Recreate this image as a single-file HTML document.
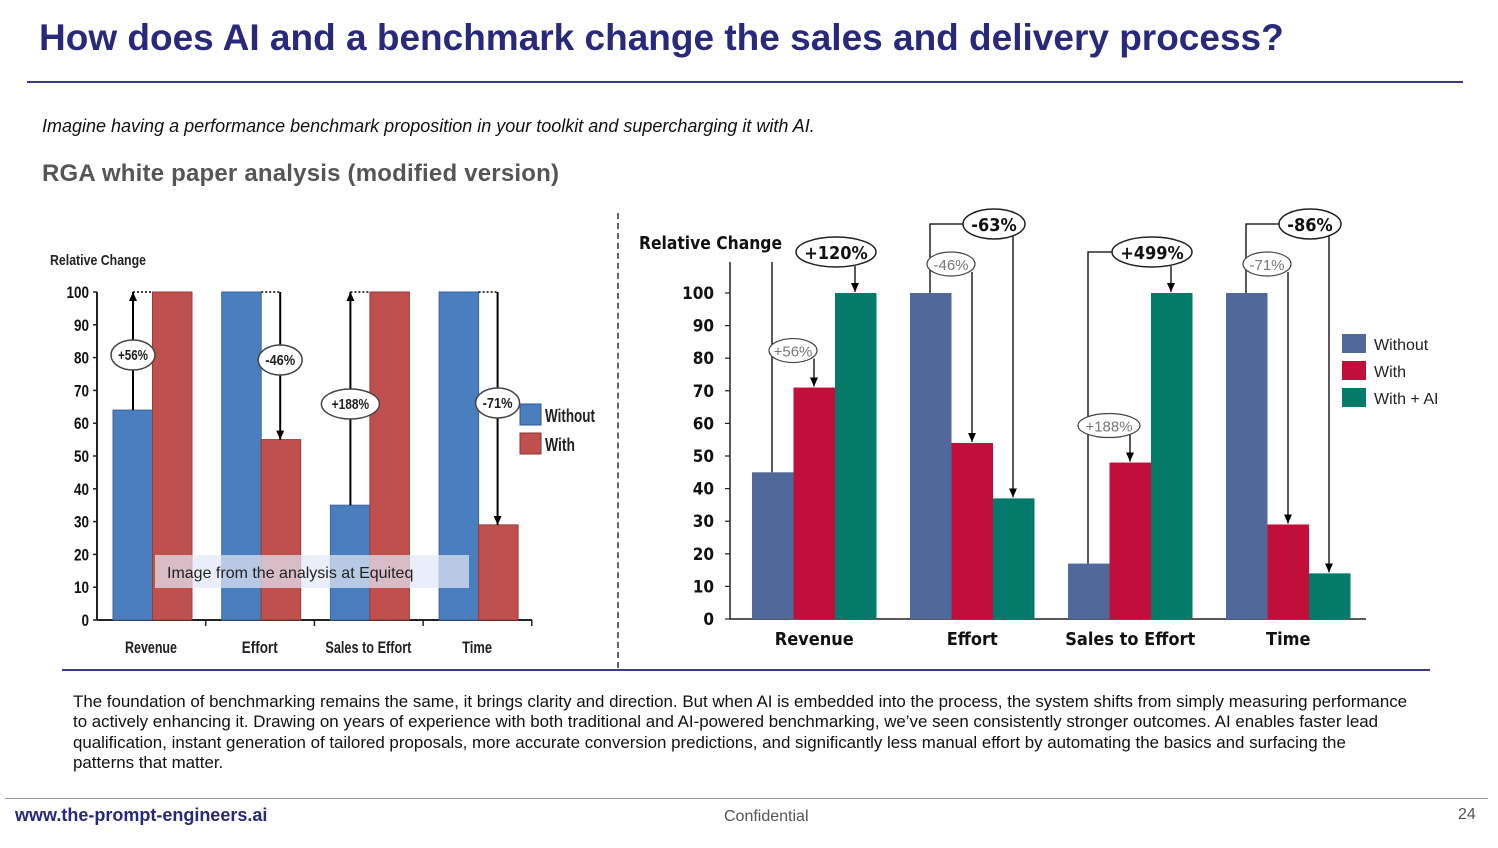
<!DOCTYPE html>
<html><head><meta charset="utf-8">
<style>
body{margin:0;width:1498px;height:848px;background:#fff;overflow:hidden;font-family:"Liberation Sans",sans-serif;position:relative}
.abs{position:absolute;margin:0}
</style></head><body>
<h1 class="abs" style="left:39px;top:17px;font-size:37px;font-weight:bold;color:#28297a;white-space:nowrap">How does AI and a benchmark change the sales and delivery process?</h1>
<div class="abs" style="left:27px;top:81px;width:1436px;height:2px;background:#3c3c82"></div>
<p class="abs" style="left:42px;top:116px;font-size:18px;font-style:italic;color:#111">Imagine having a performance benchmark proposition in your toolkit and supercharging it with AI.</p>
<p class="abs" style="left:42px;top:160px;font-size:24px;font-weight:bold;color:#555;letter-spacing:0.2px">RGA white paper analysis (modified version)</p>
<div class="abs" style="left:617px;top:213px;height:455px;border-left:2px dashed #666"></div>
<div class="abs" style="left:62px;top:669px;width:1368px;height:2px;background:#3c3c82"></div>
<p class="abs" style="left:73px;top:692px;width:1337px;font-size:16.9px;line-height:20.4px;color:#111">The foundation of benchmarking remains the same, it brings clarity and direction. But when AI is embedded into the process, the system shifts from simply measuring performance to actively enhancing it. Drawing on years of experience with both traditional and AI-powered benchmarking, we’ve seen consistently stronger outcomes. AI enables faster lead qualification, instant generation of tailored proposals, more accurate conversion predictions, and significantly less manual effort by automating the basics and surfacing the patterns that matter.</p>
<div class="abs" style="left:5px;top:798px;width:1483px;height:1px;background:#999"></div>
<div class="abs" style="left:15px;top:805px;font-size:18px;font-weight:bold;color:#28297a">www.the-prompt-engineers.ai</div>
<div class="abs" style="left:724px;top:808px;font-size:16px;color:#555">Confidential</div>
<div class="abs" style="left:1458px;top:806px;font-size:16px;color:#555">24</div>

<svg id="chart" class="abs" style="left:0;top:0" width="1498" height="848"></svg>
<script>
const categories=["Revenue","Effort","Sales to Effort","Time"];
const leftWithout=[64,100,35,100];
const leftWith=[100,55,100,29];
const leftLabels=["+56%","-46%","+188%","-71%"];
const rightWithout=[45,100,17,100];
const rightWith=[71,54,48,29];
const rightAI=[100,37,100,14];
const rightLabels1=["+56%","-46%","+188%","-71%"];
const rightLabels2=["+120%","-63%","+499%","-86%"];
const ticks=[0,10,20,30,40,50,60,70,80,90,100];

const svg=document.getElementById('chart');
const NS="http://www.w3.org/2000/svg";
function mk(tag,attrs,name,parent){const e=document.createElementNS(NS,tag);for(const k in attrs)e.setAttribute(k,attrs[k]);


(parent||svg).appendChild(e);return e;}
function txt(x,y,s,attrs,name){const t=mk('text',Object.assign({x:x,y:y},attrs),name);t.textContent=s;return t;}
const defs=document.createElementNS(NS,'defs');
defs.innerHTML='<marker id="ar" markerWidth="9" markerHeight="8" refX="9" refY="4" orient="auto" markerUnits="userSpaceOnUse"><path d="M0,0 L9,4 L0,8 z" fill="#000"/></marker>';
svg.appendChild(defs);

// ---------- LEFT CHART ----------
const L={x0:97,y0:620,y100:292,gw:108.7,off:16,bw:39.5,end:532};
const ly=v=>L.y0-(L.y0-L.y100)*v/100;
const nar='font-family:"Liberation Sans Narrow","Liberation Sans",sans-serif;font-weight:bold';
txt(50,265,"Relative Change",{style:nar,'font-size':15,fill:'#222',textLength:96,lengthAdjust:'spacingAndGlyphs'},'left-y-axis-title');
mk('line',{x1:L.x0,y1:L.y100,x2:L.x0,y2:L.y0,stroke:'#222','stroke-width':2},'left-y-axis');
mk('line',{x1:L.x0,y1:L.y0,x2:L.end,y2:L.y0,stroke:'#222','stroke-width':2},'left-x-axis');
ticks.forEach(t=>{const y=ly(t);mk('line',{x1:L.x0-4,y1:y,x2:L.x0,y2:y,stroke:'#222','stroke-width':1.5},'left-y-tick');
const s=String(t);txt(L.x0-8,y+6,s,{style:nar,'font-size':17,fill:'#111','text-anchor':'end',textLength:s.length*7.5,lengthAdjust:'spacingAndGlyphs'},'left-y-tick-label');});
const lxw=[52,36,86,30];
categories.forEach((c,i)=>{const gx=L.x0+i*L.gw;
 mk('line',{x1:gx+L.gw,y1:L.y0,x2:gx+L.gw,y2:L.y0+6,stroke:'#222','stroke-width':1.5},'left-x-tick');
 const bx=gx+L.off;
 mk('rect',{x:bx,y:ly(leftWithout[i]),width:L.bw,height:L.y0-ly(leftWithout[i]),fill:'#4a7ebf',stroke:'#3a66a0','stroke-width':1},'left-bar-without-'+i);
 mk('rect',{x:bx+L.bw,y:ly(leftWith[i]),width:L.bw,height:L.y0-ly(leftWith[i]),fill:'#c0504d',stroke:'#9c3a38','stroke-width':1},'left-bar-with-'+i);
 txt(gx+54,653,c,{style:nar,'font-size':17,fill:'#222','text-anchor':'middle',textLength:lxw[i],lengthAdjust:'spacingAndGlyphs'},'left-x-label');
 const a=ly(leftWithout[i]), b=ly(leftWith[i]);
 const up=leftWith[i]>leftWithout[i];
 const lx=up?bx+20:bx+L.bw+19;
 mk('line',{x1:lx,y1:up?a:L.y100,x2:lx,y2:up?L.y100:b,stroke:'#000','stroke-width':2,'marker-end':'url(#ar)'},'left-change-arrow');
 mk('line',{x1:Math.min(lx,bx+L.bw),y1:L.y100,x2:Math.max(lx,bx+L.bw),y2:L.y100,stroke:'#000','stroke-width':1.5,'stroke-dasharray':'2,2'},'left-dotted-top');
 const ey=[355,360,404,403][i];
 const lab=leftLabels[i];
 mk('ellipse',{cx:lx,cy:ey,rx:lab.length>4?29:22,ry:15,fill:'#fff',stroke:'#444','stroke-width':1.5},'left-change-bubble');
 txt(lx,ey+5,lab,{style:nar,'font-size':15,fill:'#222','text-anchor':'middle',textLength:lab.length*7.5,lengthAdjust:'spacingAndGlyphs'},'left-change-label');
});
mk('rect',{x:520,y:404,width:21,height:21,fill:'#4a7ebf',stroke:'#2f5690'},'left-legend-swatch-without');
txt(545,422,"Without",{style:nar,'font-size':18,fill:'#222',textLength:50,lengthAdjust:'spacingAndGlyphs'},'left-legend-without');
mk('rect',{x:520,y:433,width:21,height:21,fill:'#c0504d',stroke:'#8a3431'},'left-legend-swatch-with');
txt(545,451,"With",{style:nar,'font-size':18,fill:'#222',textLength:30,lengthAdjust:'spacingAndGlyphs'},'left-legend-with');
mk('rect',{x:155,y:555,width:314,height:33,fill:'rgba(225,232,245,0.72)'},'watermark-box');
txt(167,578,"Image from the analysis at Equiteq",{'font-size':16,fill:'#222'},'watermark-text');

// ---------- RIGHT CHART ----------
const R={x0:730,y0:619,y100:293,gw:158,off:22,bw:41.5,end:1366};
const ry=v=>R.y0-(R.y0-R.y100)*v/100;
const cal='font-family:"DejaVu Sans Condensed","Liberation Sans",sans-serif;font-weight:bold';
txt(639,249,"Relative Change",{style:cal,'font-size':18,fill:'#111',textLength:143,lengthAdjust:'spacingAndGlyphs'},'right-y-axis-title');
mk('line',{x1:R.x0,y1:262,x2:R.x0,y2:R.y0,stroke:'#222','stroke-width':1.5},'right-y-axis');
mk('line',{x1:R.x0,y1:R.y0,x2:R.end,y2:R.y0,stroke:'#222','stroke-width':1.5},'right-x-axis');
ticks.forEach(t=>{const y=ry(t);mk('line',{x1:R.x0-5,y1:y,x2:R.x0,y2:y,stroke:'#222','stroke-width':1.2},'right-y-tick');
txt(R.x0-16,y+6,String(t),{style:cal,'font-size':17,fill:'#111','text-anchor':'end'},'right-y-tick-label');});
const series=[[rightWithout,'#4f6a9a','without'],[rightWith,'#c20e3a','with'],[rightAI,'#047a6b','with-ai']];
categories.forEach((c,i)=>{const gx=R.x0+i*R.gw, bx=gx+R.off;
 series.forEach((s,k)=>{const v=s[0][i];mk('rect',{x:bx+k*R.bw,y:ry(v),width:R.bw,height:R.y0-ry(v),fill:s[1]},'right-bar-'+s[2]+'-'+i);});
 txt(bx+R.bw*1.5,645,c,{style:cal,'font-size':18,fill:'#111','text-anchor':'middle'},'right-x-label');
 const up=rightWith[i]>rightWithout[i];
 const sx=bx+41, sax=bx+62;
 const sy=up?ry(rightWith[i])-37:264;
 mk('line',{x1:sax,y1:sy+8,x2:sax,y2:ry(rightWith[i])-1,stroke:'#000','stroke-width':1.3,'marker-end':'url(#ar)'},'right-change-arrow-small');
 const bigx=bx+84, bax=bx+103, by=up?252:224;
 const lab2=rightLabels2[i];
 const bigrx=lab2.length>4?40:31;
 const leadx=bx+20;
 const pts=i===0?`${leadx},${ry(rightWithout[i])} ${leadx},262`:`${leadx},${ry(rightWithout[i])} ${leadx},${by} ${bigx-bigrx},${by}`;
 mk('polyline',{points:pts,fill:'none',stroke:'#000','stroke-width':1.3},'right-lead-line');
 mk('line',{x1:bax,y1:by+(up?14:8),x2:bax,y2:ry(rightAI[i])-1,stroke:'#000','stroke-width':1.3,'marker-end':'url(#ar)'},'right-change-arrow-big');
 const lab1=rightLabels1[i];
 mk('ellipse',{cx:sx,cy:sy,rx:lab1.length>4?31:24,ry:12,fill:'#fff',stroke:'#444','stroke-width':1.2},'right-change-bubble-small');
 txt(sx,sy+6,lab1,{'font-size':15,fill:'#777','text-anchor':'middle'},'right-change-label-small');
 mk('ellipse',{cx:bigx,cy:by,rx:bigrx,ry:15,fill:'#fff',stroke:'#222','stroke-width':1.5},'right-change-bubble-big');
 txt(bigx,by+7,lab2,{style:cal,'font-size':18,fill:'#111','text-anchor':'middle'},'right-change-label-big');
});
const leg=[['Without','#4f6a9a',344],['With','#c20e3a',371],['With + AI','#047a6b',398]];
leg.forEach(l=>{mk('rect',{x:1342,y:l[2]-10,width:24,height:19,fill:l[1]},'right-legend-swatch');
 txt(1374,l[2]+6,l[0],{'font-size':16,fill:'#222'},'right-legend-label');});
</script>
</body></html>
